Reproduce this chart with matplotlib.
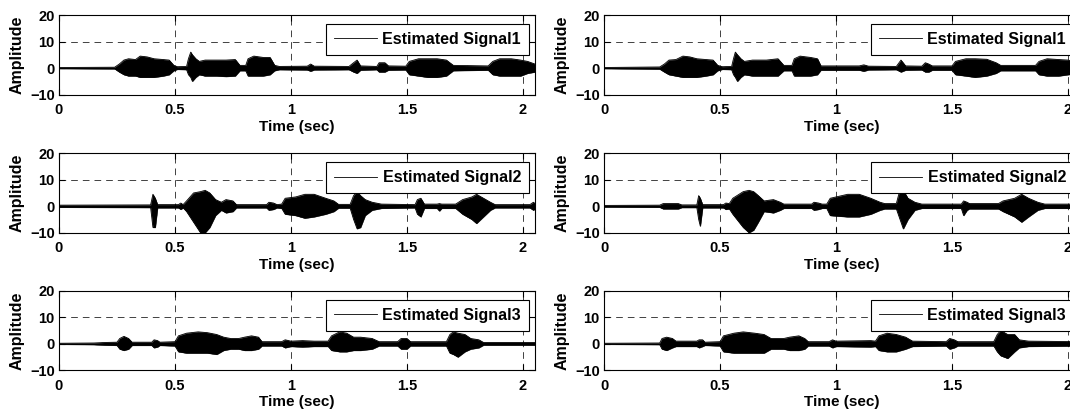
"""Estimated source signals: two columns of three amplitude/time panels."""

import matplotlib
matplotlib.use("Agg")  # no display
import matplotlib.pyplot as plt
import numpy as np

# Envelope breakpoints: (time s, upper, lower)
LEFT_SIG1 = [
    (0.000, 0.2, -0.2), (0.240, 0.3, -0.3), (0.260, 1.5, -1.5), (0.280, 3.0, -2.5),
    (0.300, 3.5, -3.0), (0.330, 3.2, -3.0), (0.350, 4.5, -3.5), (0.380, 4.2, -3.5),
    (0.410, 3.5, -3.5), (0.450, 3.2, -3.0), (0.475, 3.0, -2.5), (0.495, 1.0, -1.0),
    (0.510, 0.5, -0.5), (0.550, 0.6, -0.6), (0.558, 3.5, -2.5), (0.568, 6.0, -3.5),
    (0.575, 5.0, -5.0), (0.590, 3.5, -3.5), (0.605, 2.5, -2.5), (0.630, 3.0, -3.0),
    (0.680, 3.0, -3.0), (0.720, 3.0, -3.2), (0.760, 3.2, -3.0), (0.780, 1.0, -1.0),
    (0.805, 1.0, -1.0), (0.815, 3.5, -3.0), (0.840, 4.5, -3.0), (0.880, 4.0, -3.0),
    (0.910, 4.0, -2.5), (0.930, 1.0, -1.0), (0.950, 0.6, -0.6), (1.070, 0.7, -0.7),
    (1.085, 1.5, -1.2), (1.100, 0.7, -0.7), (1.250, 0.6, -0.6), (1.270, 2.0, -1.5),
    (1.285, 3.0, -2.0), (1.300, 0.8, -0.8), (1.370, 0.6, -0.6), (1.380, 2.0, -1.5),
    (1.405, 2.0, -1.5), (1.420, 0.8, -0.8), (1.495, 0.7, -0.7), (1.510, 2.5, -2.5),
    (1.550, 3.5, -3.0), (1.590, 3.5, -3.5), (1.630, 3.5, -3.5), (1.670, 3.0, -3.0),
    (1.700, 1.0, -1.0), (1.850, 0.8, -0.8), (1.870, 2.5, -2.5), (1.900, 3.5, -3.0),
    (1.950, 3.5, -3.0), (1.990, 3.0, -3.0), (2.020, 2.5, -2.0), (2.052, 1.5, -1.5),
]

LEFT_SIG2 = [
    (0.000, 0.4, -0.4), (0.395, 0.5, -0.5), (0.405, 4.5, -8.0), (0.415, 3.0, -8.0),
    (0.425, 0.6, -0.6), (0.515, 0.6, -0.6), (0.525, 1.2, -1.2), (0.535, 0.6, -0.6),
    (0.550, 2.0, -2.0), (0.580, 5.0, -6.0), (0.610, 5.5, -10.0), (0.630, 6.0, -10.0),
    (0.650, 5.0, -8.0), (0.675, 2.5, -3.5), (0.700, 1.5, -1.5), (0.720, 2.5, -2.5),
    (0.750, 2.0, -2.0), (0.765, 0.6, -0.6), (0.895, 0.6, -0.6), (0.905, 1.5, -1.5),
    (0.925, 1.2, -1.2), (0.940, 0.6, -0.6), (0.960, 0.8, -0.8), (0.975, 3.0, -3.0),
    (1.020, 3.5, -3.5), (1.060, 4.5, -4.5), (1.100, 4.5, -4.0), (1.150, 3.0, -3.0),
    (1.185, 2.0, -2.0), (1.205, 0.7, -0.7), (1.255, 0.7, -0.7), (1.270, 4.0, -5.0),
    (1.285, 5.5, -8.5), (1.300, 4.0, -8.0), (1.320, 2.5, -3.5), (1.350, 1.5, -1.5),
    (1.390, 0.8, -0.8), (1.535, 0.6, -0.6), (1.545, 2.5, -3.0), (1.560, 3.0, -4.0),
    (1.575, 0.8, -0.8), (1.630, 0.8, -0.8), (1.640, 1.0, -1.8), (1.650, 0.8, -0.8),
    (1.710, 0.8, -0.8), (1.740, 2.5, -3.0), (1.780, 3.5, -5.0), (1.800, 4.5, -6.5),
    (1.830, 3.0, -4.0), (1.860, 1.5, -1.5), (1.880, 0.6, -0.6), (2.030, 0.6, -0.6),
    (2.045, 1.5, -1.5), (2.052, 1.0, -1.0),
]

LEFT_SIG3 = [
    (0.000, 0.2, -0.2), (0.150, 0.3, -0.3), (0.200, 0.5, -0.5), (0.250, 0.6, -0.6),
    (0.262, 2.0, -2.0), (0.280, 2.8, -2.5), (0.300, 2.0, -2.0), (0.315, 0.6, -0.6),
    (0.400, 0.6, -0.6), (0.410, 1.5, -1.5), (0.425, 1.2, -1.2), (0.435, 0.6, -0.6),
    (0.500, 0.8, -0.8), (0.515, 3.0, -3.0), (0.550, 4.0, -3.5), (0.600, 4.5, -3.5),
    (0.640, 4.2, -3.5), (0.680, 3.5, -4.0), (0.710, 2.5, -2.5), (0.740, 2.0, -2.0),
    (0.775, 2.0, -2.0), (0.800, 2.5, -2.5), (0.830, 3.0, -2.5), (0.860, 2.5, -2.0),
    (0.875, 0.8, -0.8), (0.960, 0.8, -0.8), (0.975, 1.5, -1.5), (1.000, 1.0, -1.0),
    (1.050, 1.2, -1.2), (1.100, 1.0, -1.0), (1.160, 1.0, -1.0), (1.175, 3.0, -2.5),
    (1.210, 4.5, -3.0), (1.240, 4.0, -3.0), (1.270, 2.5, -2.5), (1.300, 2.5, -2.5),
    (1.350, 2.0, -2.0), (1.380, 0.8, -0.8), (1.460, 0.8, -0.8), (1.475, 2.0, -2.0),
    (1.500, 2.0, -2.0), (1.515, 0.8, -0.8), (1.670, 0.8, -0.8), (1.685, 3.5, -3.5),
    (1.700, 4.5, -4.0), (1.720, 4.0, -5.0), (1.750, 3.5, -3.0), (1.775, 2.0, -2.0),
    (1.810, 1.5, -1.5), (1.830, 0.5, -0.5), (2.052, 0.5, -0.5),
]

RIGHT_SIG1 = [
    (0.000, 0.2, -0.2), (0.240, 0.4, -0.4), (0.260, 1.5, -1.5), (0.280, 3.0, -2.5),
    (0.310, 3.2, -3.0), (0.340, 4.5, -3.5), (0.370, 4.2, -3.5), (0.400, 3.5, -3.5),
    (0.440, 3.2, -3.0), (0.470, 3.0, -2.5), (0.490, 1.0, -1.0), (0.510, 0.5, -0.5),
    (0.550, 0.6, -0.6), (0.558, 3.5, -2.5), (0.566, 6.0, -3.5), (0.575, 5.0, -5.0),
    (0.590, 3.5, -3.5), (0.605, 2.5, -2.5), (0.640, 3.0, -3.0), (0.700, 3.0, -3.0),
    (0.750, 3.5, -3.0), (0.775, 1.0, -1.0), (0.810, 1.0, -1.0), (0.820, 3.5, -3.0),
    (0.845, 4.5, -3.0), (0.890, 4.0, -3.0), (0.920, 3.5, -2.5), (0.935, 0.8, -0.8),
    (1.100, 0.8, -0.8), (1.120, 1.2, -1.2), (1.140, 0.7, -0.7), (1.260, 0.6, -0.6),
    (1.280, 3.0, -1.5), (1.300, 0.8, -0.8), (1.370, 0.7, -0.7), (1.385, 2.0, -1.5),
    (1.400, 1.5, -1.5), (1.415, 0.8, -0.8), (1.500, 0.8, -0.8), (1.515, 2.5, -2.5),
    (1.560, 3.5, -3.0), (1.600, 3.5, -3.5), (1.650, 3.3, -3.0), (1.690, 2.0, -2.0),
    (1.710, 1.0, -1.0), (1.860, 1.0, -1.0), (1.875, 2.5, -2.5), (1.910, 3.5, -3.0),
    (1.960, 3.2, -3.0), (2.000, 3.0, -2.5), (2.052, 2.0, -2.0),
]

RIGHT_SIG2 = [
    (0.000, 0.3, -0.3), (0.240, 0.4, -0.4), (0.255, 1.0, -1.0), (0.320, 1.0, -1.0),
    (0.335, 0.5, -0.5), (0.400, 0.5, -0.5), (0.408, 4.0, -5.0), (0.415, 3.0, -7.5),
    (0.425, 0.6, -0.6), (0.515, 0.6, -0.6), (0.525, 1.2, -1.2), (0.540, 1.0, -1.0),
    (0.555, 3.0, -3.0), (0.600, 5.5, -8.0), (0.625, 6.0, -10.0), (0.645, 5.5, -9.0),
    (0.665, 4.0, -6.0), (0.690, 2.0, -2.0), (0.730, 2.5, -2.5), (0.760, 1.5, -1.5),
    (0.775, 0.8, -0.8), (0.895, 0.8, -0.8), (0.905, 1.5, -1.5), (0.925, 1.2, -1.2),
    (0.940, 0.8, -0.8), (0.960, 0.8, -0.8), (0.975, 3.0, -3.5), (1.050, 4.5, -4.0),
    (1.100, 4.5, -4.0), (1.150, 3.0, -3.0), (1.190, 1.5, -1.5), (1.210, 1.0, -1.0),
    (1.260, 1.0, -1.0), (1.272, 5.0, -4.0), (1.290, 6.0, -8.5), (1.310, 3.0, -5.0),
    (1.340, 1.5, -1.5), (1.370, 0.8, -0.8), (1.540, 0.8, -0.8), (1.550, 2.0, -3.5),
    (1.565, 1.5, -1.5), (1.575, 1.0, -1.0), (1.700, 1.0, -1.0), (1.720, 2.0, -2.0),
    (1.770, 3.0, -4.0), (1.800, 4.5, -6.0), (1.830, 3.0, -4.0), (1.870, 1.5, -1.5),
    (1.900, 0.8, -0.8), (2.052, 0.8, -0.8),
]

RIGHT_SIG3 = [
    (0.000, 0.2, -0.2), (0.240, 0.3, -0.3), (0.250, 2.0, -2.0), (0.270, 2.5, -2.5),
    (0.295, 2.0, -1.5), (0.310, 1.0, -1.0), (0.400, 1.0, -1.0), (0.410, 1.5, -1.5),
    (0.425, 1.5, -1.0), (0.435, 0.6, -0.6), (0.500, 0.8, -0.8), (0.515, 3.0, -3.0),
    (0.560, 4.0, -3.5), (0.600, 4.5, -3.5), (0.650, 4.0, -3.5), (0.690, 3.5, -3.5),
    (0.720, 2.0, -2.0), (0.775, 2.0, -2.0), (0.800, 2.5, -2.5), (0.840, 3.0, -2.5),
    (0.865, 2.0, -2.0), (0.880, 0.8, -0.8), (0.970, 0.8, -0.8), (0.985, 1.5, -1.5),
    (1.000, 1.0, -1.0), (1.150, 1.2, -1.2), (1.170, 1.0, -1.0), (1.185, 3.0, -2.5),
    (1.220, 4.0, -3.0), (1.260, 3.5, -3.0), (1.300, 2.5, -2.0), (1.330, 1.0, -1.0),
    (1.475, 0.8, -0.8), (1.490, 2.0, -2.0), (1.510, 1.5, -1.5), (1.525, 0.8, -0.8),
    (1.680, 0.8, -0.8), (1.695, 3.5, -3.0), (1.710, 5.0, -4.5), (1.740, 3.5, -5.5),
    (1.770, 3.5, -3.0), (1.790, 1.5, -1.5), (1.830, 1.0, -1.0), (2.052, 0.8, -0.8),
]

LEGEND_LABELS = ["Estimated Signal1", "Estimated Signal2", "Estimated Signal3"]
X_TICKS = [0, 0.5, 1, 1.5, 2]
X_TICK_LABELS = ["0", "0.5", "1", "1.5", "2"]
Y_TICKS = [-10, 0, 10, 20]
X_MAX = 2.052

plt.rcParams.update({
    "font.family": ["Liberation Sans", "DejaVu Sans"],
    "font.weight": "bold",
    "font.size": 11,
    "axes.linewidth": 0.8,
})


def draw_panel(ax, env, label):
    """Filled envelope of one signal plus MATLAB-style axes."""
    env = np.asarray(env, dtype=float)
    t, hi, lo = env[:, 0], env[:, 1], env[:, 2]
    ax.fill_between(t, lo, hi, color="black", linewidth=0.3)
    ax.plot(t, hi, color="black", linewidth=0.6, label=label)
    ax.plot(t, lo, color="black", linewidth=0.6)

    ax.set_xlim(0, X_MAX)
    ax.set_ylim(-10, 20)
    ax.set_xticks(X_TICKS)
    ax.set_xticklabels(X_TICK_LABELS)
    ax.set_yticks(Y_TICKS)
    ax.tick_params(direction="in", top=True, right=True, length=4, width=0.8,
                   labelsize=10.5)
    ax.tick_params(axis="x", pad=6)
    ax.tick_params(axis="y", pad=3)
    ax.grid(True, color="#222222", linewidth=0.6, linestyle=(0, (8, 6)))
    ax.set_axisbelow(True)
    ax.set_xlabel("Time (sec)", fontweight="bold", fontsize=11, labelpad=2)
    ax.set_ylabel("Amplitude", fontweight="bold", fontsize=11.5, labelpad=4)

    leg = ax.legend(loc="upper right", bbox_to_anchor=(1 - 6 / 476, 1 - 9 / 79.5),
                    borderaxespad=0, fancybox=False, framealpha=1,
                    edgecolor="black", borderpad=0.5, handlelength=2.7,
                    handletextpad=0.35, prop={"weight": "bold", "size": 11.5})
    leg.get_frame().set_linewidth(0.8)


fig = plt.figure(figsize=(10.7, 4.16), dpi=100)

col_left = [0.0551, 0.5645]
width = 0.4449
row_bottom = [0.7728, 0.4406, 0.1099]
height = 0.1911

columns = [
    [LEFT_SIG1, LEFT_SIG2, LEFT_SIG3],
    [RIGHT_SIG1, RIGHT_SIG2, RIGHT_SIG3],
]

for c, signals in enumerate(columns):
    for r, env in enumerate(signals):
        ax = fig.add_axes([col_left[c], row_bottom[r], width, height])
        draw_panel(ax, env, LEGEND_LABELS[r])

fig.savefig("out.png", dpi=100)
plt.close(fig)
